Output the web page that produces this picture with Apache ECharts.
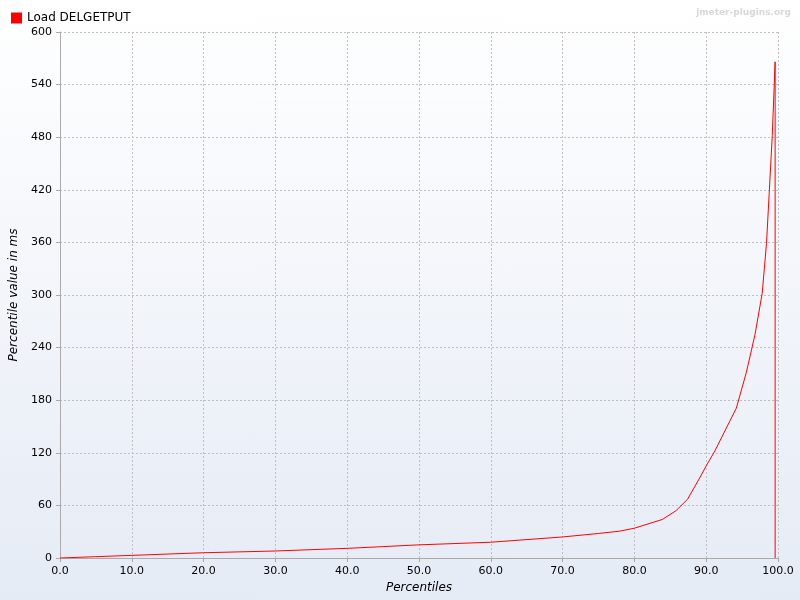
<!DOCTYPE html>
<html><head><meta charset="utf-8">
<script src="https://cdn.jsdelivr.net/npm/echarts@6/dist/echarts.min.js"></script>
<style>html,body{margin:0;padding:0;}#c{width:800px;height:600px;background:linear-gradient(#ffffff,#e5ebf5);}</style>
</head><body><div id="c"></div>
<script>
const percentiles = [0,5,10,20,30,40,50,60,70,75,77.9,80,83.9,85.8,87.4,89,90,91.2,94.2,95.6,96.8,97.8,98.4,98.8,99.2,99.6,99.6];
const valuesMs    = [0,1.5,3,6,8,11,15,18,24,28,30.6,34,44,54,67,90,105,122,171,212,255,302,359,420,482,566,0];
const seriesName = 'Load DELGETPUT';
const chart = echarts.init(document.getElementById('c'));
const lbl = {color:'#000', fontFamily:'DejaVu Sans', fontSize:11};
chart.setOption({
  animation:false,
  title:{text:'jmeter-plugins.org', right:4, top:3, textStyle:{color:'#d8d8d8', fontSize:9, fontWeight:'bold', fontFamily:'DejaVu Sans'}},
  legend:{left:6, top:7, itemWidth:11, itemHeight:11, itemGap:4, icon:'rect', textStyle:{fontSize:12, fontFamily:'DejaVu Sans', color:'#000'}, data:[seriesName]},
  grid:{left:58, right:22, top:32, bottom:42},
  xAxis:{type:'value', min:0, max:100, interval:10, name:'Percentiles', nameLocation:'middle', nameGap:23,
    nameTextStyle:{fontStyle:'italic', fontSize:12, fontFamily:'DejaVu Sans', color:'#000'},
    axisLabel:{...lbl, formatter:v=>v.toFixed(1)}, axisLine:{lineStyle:{color:'#aaa'}}, axisTick:{length:4,lineStyle:{color:'#aaa'}},
    splitLine:{show:true, lineStyle:{type:[2,2], color:'#c0c0c0'}}},
  yAxis:{type:'value', min:0, max:600, interval:60, name:'Percentile value in ms', nameLocation:'middle', nameGap:40,
    nameTextStyle:{fontStyle:'italic', fontSize:12, fontFamily:'DejaVu Sans', color:'#000'},
    axisLabel:lbl, axisLine:{show:true, lineStyle:{color:'#aaa'}}, axisTick:{show:true, length:4, lineStyle:{color:'#aaa'}},
    splitLine:{show:true, lineStyle:{type:[2,2], color:'#c0c0c0'}}},
  series:[{name:seriesName, type:'line', showSymbol:false, smooth:false, color:'#ff0000', lineStyle:{width:1, color:'#ff0000'},
    data:percentiles.map((p,i)=>[p,valuesMs[i]])}]
});
</script></body></html>
